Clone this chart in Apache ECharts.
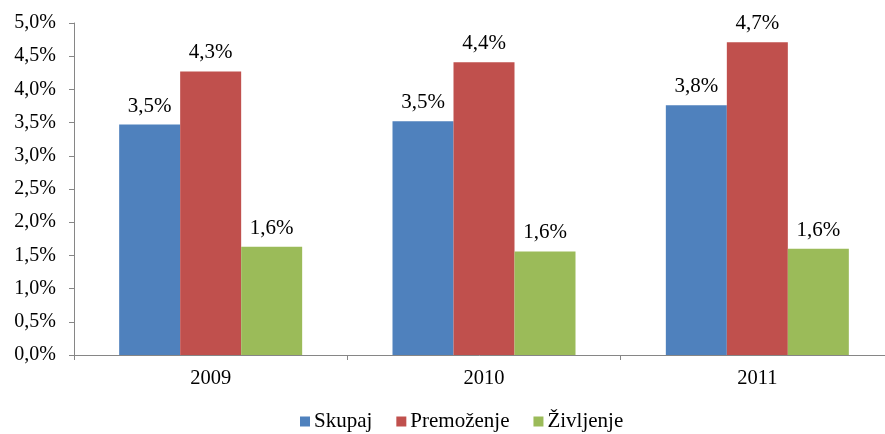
<!DOCTYPE html>
<html lang="sl">
<head>
<meta charset="UTF-8">
<title>Chart</title>
<script src="https://cdnjs.cloudflare.com/ajax/libs/echarts/6.0.0/echarts.min.js"></script>
<style>
  html, body { margin: 0; padding: 0; background: #fff; }
</style>
</head>
<body>
<div id="chart" style="width:885px; height:434px;"></div>
<script>
// podatki
var years = ["2009", "2010", "2011"];
var skupaj = [3.47, 3.52, 3.76];
var premozenje = [4.27, 4.41, 4.71];
var zivljenje = [1.63, 1.56, 1.60];

var font = "'Liberation Serif', 'Times New Roman', serif";

function pct(v) {
  return v.toFixed(1).replace(".", ",") + "%";
}

function makeSeries(name, data, color) {
  return {
    name: name,
    type: "bar",
    data: data,
    barWidth: 61,
    barGap: "0%",
    itemStyle: { color: color },
    label: {
      show: true,
      position: "top",
      distance: 8,
      fontFamily: font,
      fontSize: 21,
      color: "#000",
      formatter: function (p) { return pct(p.value); }
    }
  };
}

var myChart = echarts.init(document.getElementById("chart"));
var option = {
  animation: false,
  // os x se nadaljuje čez desni rob slike
  grid: { left: 74, width: 820, top: 23, bottom: 79, containLabel: false, outerBoundsMode: "none" },
  legend: {
    top: 411,
    left: 300,
    padding: 0,
    itemWidth: 10,
    itemHeight: 10,
    itemGap: 24,
    icon: "rect",
    textStyle: { fontFamily: font, fontSize: 21, color: "#000", padding: [0, 0, 0, -1] },
    data: ["Skupaj", "Premoženje", "Življenje"]
  },
  xAxis: {
    type: "category",
    data: years,
    axisLine: { lineStyle: { color: "#868686" } },
    axisTick: { show: true, alignWithLabel: false, length: 5, lineStyle: { color: "#868686" } },
    axisLabel: { fontFamily: font, fontSize: 20.5, color: "#000", margin: 13 }
  },
  yAxis: {
    type: "value",
    min: 0,
    max: 5,
    interval: 0.5,
    splitLine: { show: false },
    axisLine: { show: true, lineStyle: { color: "#868686" } },
    axisTick: { show: true, length: 5, lineStyle: { color: "#868686" } },
    axisLabel: {
      fontFamily: font, fontSize: 20, color: "#000", margin: 18,
      formatter: function (v) { return pct(v); }
    }
  },
  series: [
    makeSeries("Skupaj", skupaj, "#4F81BD"),
    makeSeries("Premoženje", premozenje, "#C0504D"),
    makeSeries("Življenje", zivljenje, "#9BBB59")
  ]
};
myChart.setOption(option);
</script>
</body>
</html>
